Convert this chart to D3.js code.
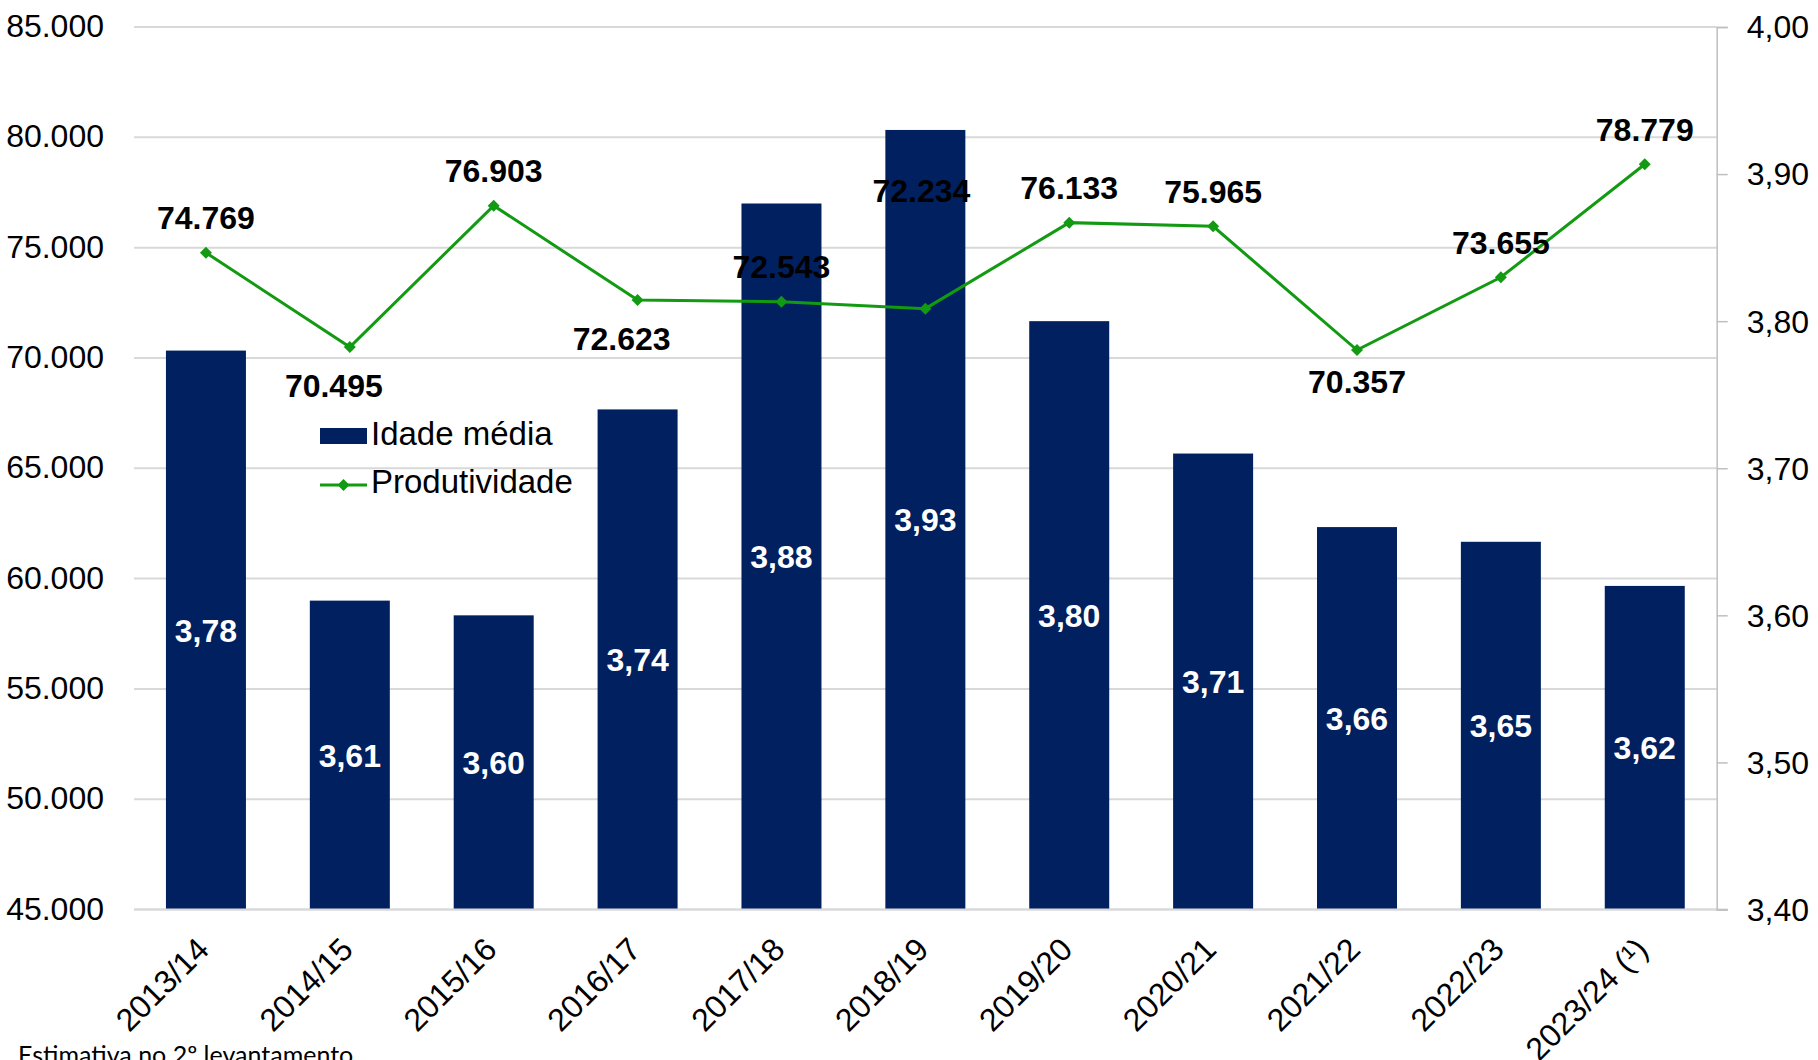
<!DOCTYPE html>
<html>
<head>
<meta charset="utf-8">
<script src="https://cdn.jsdelivr.net/npm/d3@7"></script>
<style>
  html, body { margin: 0; padding: 0; background: #ffffff; }
  svg { display: block; }
</style>
</head>
<body>
<script>
// ---- Data ----
const categories = ["2013/14", "2014/15", "2015/16", "2016/17", "2017/18", "2018/19", "2019/20", "2020/21", "2021/22", "2022/23", "2023/24 (¹)"];
const idadeMedia = [3.78, 3.61, 3.60, 3.74, 3.88, 3.93, 3.80, 3.71, 3.66, 3.65, 3.62];
const produtividade = [74769, 70495, 76903, 72623, 72543, 72234, 76133, 75965, 70357, 73655, 78779];
const leftTicks = [45000, 50000, 55000, 60000, 65000, 70000, 75000, 80000, 85000];
const rightTicks = [3.40, 3.50, 3.60, 3.70, 3.80, 3.90, 4.00];
const labelPlacement = ["above", "belowLeft", "above", "belowLeft", "above", "high", "above", "above", "below", "above", "above"];
const seriesNames = ["Idade média", "Produtividade"];
const footnote = "Estimativa no 2º levantamento";

// ---- Setup ----
const W = 1818, H = 1060;
const plot = { left: 134, right: 1716.7, top: 27, bottom: 909.5 };
const FONT = "'Liberation Sans', Arial, sans-serif";
const barColor = "#002060";
const lineColor = "#129a12";

const locale = d3.formatLocale({ decimal: ",", thousands: ".", grouping: [3], currency: ["", ""] });
const fmtThousands = locale.format(",.0f");
const fmt2 = locale.format(",.2f");

const svg = d3.select("body").append("svg").attr("width", W).attr("height", H)
  .style("font-family", FONT);

const x = d3.scaleBand().domain(categories).range([plot.left, plot.right])
  .paddingInner(0.444).paddingOuter(0.222);
const yL = d3.scaleLinear().domain([45000, 85000]).range([plot.bottom, plot.top]);
const yR = d3.scaleLinear().domain([3.40, 4.00]).range([plot.bottom, plot.top]);
const cx = i => x(categories[i]) + x.bandwidth() / 2;

// Gridlines (left axis)
svg.append("g").selectAll("line").data(leftTicks).join("line")
  .attr("x1", plot.left).attr("x2", plot.right)
  .attr("y1", d => yL(d)).attr("y2", d => yL(d))
  .attr("stroke", "#d9d9d9").attr("stroke-width", 2);

// Left axis labels
const leftAxis = d3.axisLeft(yL).tickValues(leftTicks).tickFormat(fmtThousands).tickSize(0).tickPadding(30);
const gL = svg.append("g").attr("transform", `translate(${plot.left},0)`).call(leftAxis);
gL.select(".domain").remove();
gL.selectAll("text").attr("font-size", 32).attr("fill", "#000").style("font-family", FONT).attr("dy", "0.3em");

// Bars
svg.append("g").selectAll("rect").data(categories).join("rect")
  .attr("x", d => x(d)).attr("width", x.bandwidth())
  .attr("y", (d, i) => yR(idadeMedia[i]))
  .attr("height", (d, i) => yR(3.40) - yR(idadeMedia[i]))
  .attr("fill", barColor);

// Bar labels
svg.append("g").selectAll("text").data(categories).join("text")
  .attr("x", d => x(d) + x.bandwidth() / 2)
  .attr("y", (d, i) => (yR(idadeMedia[i]) + yR(3.40)) / 2)
  .attr("dy", "0.36em")
  .attr("text-anchor", "middle")
  .attr("font-size", 32).attr("font-weight", "bold").attr("fill", "#ffffff")
  .text((d, i) => fmt2(idadeMedia[i]));

// Baseline
svg.append("line").attr("x1", plot.left).attr("x2", plot.right + 11)
  .attr("y1", plot.bottom).attr("y2", plot.bottom)
  .attr("stroke", "#d9d9d9").attr("stroke-width", 2);

// Right axis
const rightAxis = d3.axisRight(yR).tickValues(rightTicks).tickFormat(fmt2).tickSize(11).tickPadding(19);
const gR = svg.append("g").attr("transform", `translate(${plot.right},0)`).call(rightAxis);
gR.select(".domain").attr("stroke", "#bfbfbf").attr("stroke-width", 1.5);
gR.selectAll(".tick line").attr("stroke", "#bfbfbf").attr("stroke-width", 1.5);
gR.selectAll("text").attr("font-size", 32).attr("fill", "#000").style("font-family", FONT).attr("dy", "0.34em");

// X labels
svg.append("g").selectAll("text").data(categories).join("text")
  .attr("transform", d => `translate(${x(d) + x.bandwidth() / 2 + 5},${plot.bottom + 42}) rotate(-45)`)
  .attr("text-anchor", "end")
  .attr("font-size", 32).attr("fill", "#000")
  .text(d => d);

// Line
const lineGen = d3.line()
  .x((d, i) => cx(i))
  .y(d => yL(d));
svg.append("path").datum(produtividade)
  .attr("d", lineGen).attr("fill", "none")
  .attr("stroke", lineColor).attr("stroke-width", 3);

svg.append("g").selectAll("path").data(produtividade).join("path")
  .attr("d", d3.symbol().type(d3.symbolSquare).size(72))
  .attr("transform", (d, i) => `translate(${cx(i)},${yL(d)}) rotate(45)`)
  .attr("fill", lineColor);

// Line labels
const offsets = {
  above: { dx: 0, dy: -35 },
  below: { dx: 0, dy: 31 },
  belowLeft: { dx: -16, dy: 38 },
  high: { dx: -4, dy: -118 }
};
svg.append("g").selectAll("text").data(produtividade).join("text")
  .attr("x", (d, i) => cx(i) + offsets[labelPlacement[i]].dx)
  .attr("y", (d, i) => yL(d) + offsets[labelPlacement[i]].dy)
  .attr("dy", "0.36em")
  .attr("text-anchor", "middle")
  .attr("font-size", 32).attr("font-weight", "bold").attr("fill", "#000")
  .text(d => fmtThousands(d));

// Legend
const lg = svg.append("g");
lg.append("rect").attr("x", 320).attr("y", 428).attr("width", 47).attr("height", 16).attr("fill", barColor);
lg.append("text").attr("x", 371).attr("y", 445).attr("font-size", 33).attr("fill", "#000").text(seriesNames[0]);
lg.append("line").attr("x1", 320).attr("x2", 367).attr("y1", 485).attr("y2", 485)
  .attr("stroke", lineColor).attr("stroke-width", 3);
lg.append("path").attr("d", d3.symbol().type(d3.symbolSquare).size(72))
  .attr("transform", "translate(343.5,485) rotate(45)").attr("fill", lineColor);
lg.append("text").attr("x", 371).attr("y", 493).attr("font-size", 33).attr("fill", "#000").text(seriesNames[1]);

// Footnote
svg.append("text").attr("x", 18).attr("y", 1064)
  .attr("font-size", 25).attr("fill", "#000")
  .style("font-family", "Lato, 'Open Sans', sans-serif")
  .text(footnote);
</script>
</body>
</html>
